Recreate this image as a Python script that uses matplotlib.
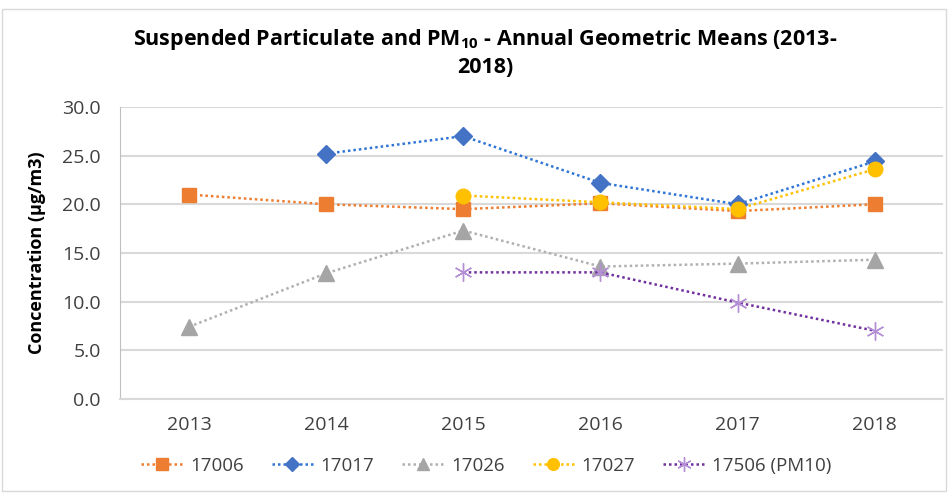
import matplotlib
matplotlib.use("Agg")
import matplotlib.pyplot as plt
import numpy as np
from matplotlib.patches import Rectangle

years = ["2013", "2014", "2015", "2016", "2017", "2018"]
s17006 = [21.0, 20.0, 19.5, 20.1, 19.3, 20.0]
s17017 = [np.nan, 25.2, 27.0, 22.2, 20.0, 24.4]
s17026 = [7.4, 12.9, 17.3, 13.6, 13.9, 14.3]
s17027 = [np.nan, np.nan, 20.9, 20.2, 19.5, 23.6]
s17506 = [np.nan, np.nan, 13.0, 13.0, 9.9, 7.0]
labels = ["17006", "17017", "17026", "17027", "17506 (PM10)"]
yticks = [0, 5, 10, 15, 20, 25, 30]

plt.rcParams['font.family'] = ['Open Sans', 'DejaVu Sans']
plt.rcParams['mathtext.fontset'] = 'custom'
plt.rcParams['mathtext.rm'] = 'Open Sans'
plt.rcParams['mathtext.bf'] = 'Open Sans:bold'

fig = plt.figure(figsize=(9.48, 4.93), dpi=100)
fig.patches.append(Rectangle((0.002, 0.004), 0.996, 0.977, transform=fig.transFigure,
                             fill=False, edgecolor='#d9d9d9', linewidth=1))
ax = fig.add_axes([0.127, 0.191, 0.868, 0.592])
x = np.arange(len(years))

series = [
    (s17006, '#ed7d31', '#ed7d31', 's', 10),
    (s17017, '#4472c4', '#2e75d6', 'D', 9),
    (s17026, '#a5a5a5', '#b0b0b0', '^', 11),
    (s17027, '#ffc000', '#ffc000', 'o', 10.5),
    (s17506, '#b48fd6', '#7030a0', (6, 2, 0), 13),
]
for (vals, mc, lc, mk, ms), lab in zip(series, labels):
    v = np.array(vals, dtype=float)
    if mk == (6, 2, 0):
        ax.plot(x, v, linestyle=(0, (1, 1.2)), color=lc, linewidth=1.8, marker=mk,
                markersize=ms, markeredgecolor=mc, markeredgewidth=1.0,
                label=lab, zorder=3)
    else:
        ax.plot(x, v, linestyle=(0, (1, 1.2)), color=lc, linewidth=1.8, marker=mk,
                markersize=ms, markerfacecolor=mc, markeredgecolor=mc,
                label=lab, zorder=3)

ax.set_xlim(-0.5, 5.5)
ax.set_ylim(0, 30)
ax.set_yticks(yticks)
ax.set_yticklabels([f"{t:.1f}" for t in yticks], fontsize=14, color='#404040')
ax.set_xticks(x)
ax.set_xticklabels(years, fontsize=14, color='#404040')
ax.tick_params(axis='y', length=0, pad=14)
ax.tick_params(axis='x', length=0, pad=12)
ax.yaxis.grid(True, color='#d9d9d9', linewidth=1.5)
ax.set_axisbelow(True)
for s in ['top', 'right']:
    ax.spines[s].set_visible(False)
ax.spines['left'].set_color('#bfbfbf')
ax.spines['bottom'].set_color('#d9d9d9')
ax.spines['bottom'].set_linewidth(1.5)

ax.set_ylabel("Concentration (µg/m3)", fontsize=13, fontweight='bold', labelpad=12)

fig.text(0.512, 0.909, "Suspended Particulate and PM$_{\\mathbf{10}}$ - Annual Geometric Means (2013-",
         ha='center', va='baseline', fontsize=15.5, fontweight='bold')
fig.text(0.512, 0.852, "2018)", ha='center', va='baseline', fontsize=15.5, fontweight='bold')

leg = fig.legend(loc='center', bbox_to_anchor=(0.513, 0.055), ncol=5, frameon=False,
                 fontsize=13.5, handlelength=2.2, handletextpad=0.4, columnspacing=1.5,
                 markerscale=0.8)
for t in leg.get_texts():
    t.set_color('#404040')

fig.savefig("out.png", dpi=100)
